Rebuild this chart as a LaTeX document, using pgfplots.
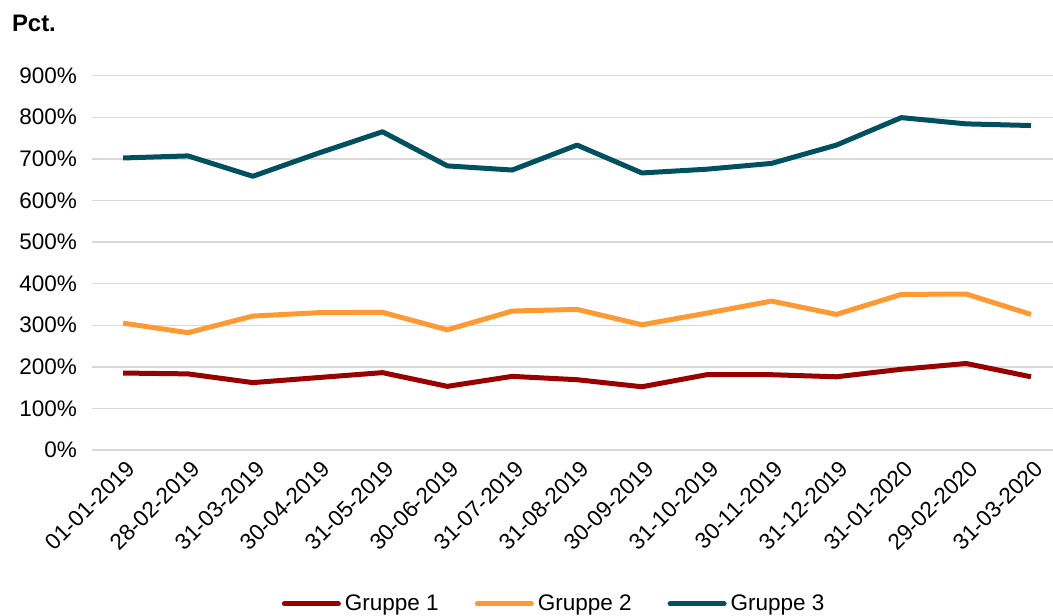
\documentclass[border=0pt]{standalone}
\usepackage{pgfplots}
\pgfplotsset{compat=1.18}
\usepackage{fontspec}
\setmainfont{Liberation Sans}
\definecolor{grpA}{HTML}{990000}
\definecolor{grpB}{HTML}{FF9933}
\definecolor{grpC}{HTML}{00505F}
\definecolor{gridc}{HTML}{D9D9D9}
\begin{document}
\begin{tikzpicture}
\begin{axis}[
    scale only axis,
    width=480.5bp, height=187.2bp,
    xmin=-0.48, xmax=14.34,
    ymin=0, ymax=900,
    ytick={0,100,...,900},
    yticklabels={0\%,100\%,200\%,300\%,400\%,500\%,600\%,700\%,800\%,900\%},
    xtick={0,...,14},
    xticklabels={01-01-2019,28-02-2019,31-03-2019,30-04-2019,31-05-2019,30-06-2019,31-07-2019,31-08-2019,30-09-2019,31-10-2019,30-11-2019,31-12-2019,31-01-2020,29-02-2020,31-03-2020},
    axis line style={draw=none},
    major tick length=0pt,
    ymajorgrids,
    grid style={gridc, line width=0.7bp},
    tick label style={font=\fontsize{11.3}{13}\selectfont},
    yticklabel style={xshift=-4bp},
    xticklabel style={rotate=45, anchor=east, xshift=1bp, yshift=-8bp},
    legend columns=3,
    legend style={at={(0.482,-0.411)}, anchor=center, draw=none,
        font=\fontsize{11.3}{13}\selectfont,
        /tikz/every even column/.append style={column sep=16bp}},
    legend image code/.code={\draw[#1, line cap=round] (0bp,0bp) -- (27bp,0bp);},
    every axis plot/.append style={line width=2.5bp, line join=round},
    clip=false,
]
\addplot[grpA] coordinates {
(0,185) (1,183) (2,162) (3,174) (4,186) (5,153) (6,177) (7,169)
(8,152) (9,181) (10,181) (11,176) (12,194) (13,208) (14,176)};
\addplot[grpB] coordinates {
(0,305) (1,282) (2,322) (3,330) (4,331) (5,289) (6,334) (7,338)
(8,301) (9,329) (10,358) (11,326) (12,374) (13,375) (14,326)};
\addplot[grpC] coordinates {
(0,702) (1,707) (2,658) (3,713) (4,765) (5,683) (6,673) (7,733)
(8,666) (9,675) (10,689) (11,733) (12,799) (13,784) (14,780)};
\legend{Gruppe 1, Gruppe 2, Gruppe 3}
\node[anchor=west, font=\bfseries\fontsize{12}{14}\selectfont] at ([xshift=-43.5bp, yshift=26bp]rel axis cs:0,1) {Pct.};
\end{axis}
\pgfresetboundingbox
\path (-46bp,-83bp) rectangle (480.5bp,225bp);
\end{tikzpicture}
\end{document}
